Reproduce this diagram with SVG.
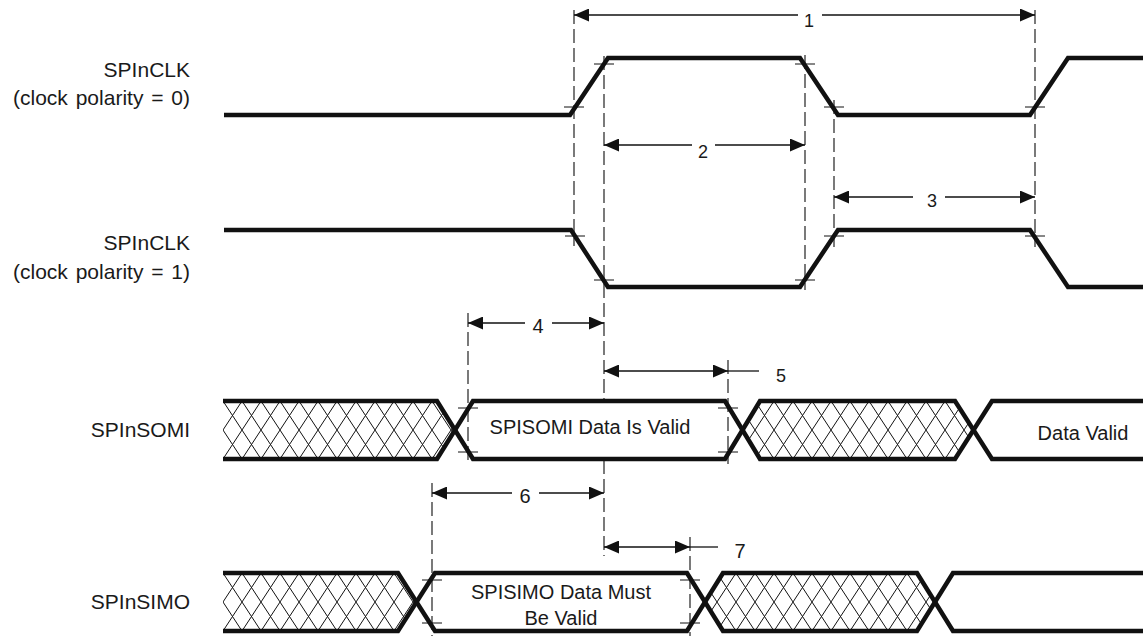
<svg xmlns="http://www.w3.org/2000/svg" width="1143" height="636" viewBox="0 0 1143 636">
<defs>
<marker id="ah" viewBox="0 0 15 13" refX="15" refY="6.5" markerWidth="15" markerHeight="13" markerUnits="userSpaceOnUse" orient="auto-start-reverse">
<path d="M0,0 L15,6.5 L0,13 Z" fill="#111"/>
</marker>
<pattern id="xh1" patternUnits="userSpaceOnUse" x="223" y="401" width="19" height="29">
<path d="M0,0 L19,29 M19,0 L0,29" stroke="#111" stroke-width="1" fill="none"/>
</pattern>
<pattern id="xh2" patternUnits="userSpaceOnUse" x="223" y="573" width="19" height="29">
<path d="M0,0 L19,29 M19,0 L0,29" stroke="#111" stroke-width="1" fill="none"/>
</pattern>
</defs>
<style>
.lbl{font-family:"Liberation Sans",Arial,sans-serif;font-size:20px;fill:#1a1a1a}
.side{font-family:"Liberation Sans",Arial,sans-serif;font-size:21px;fill:#1a1a1a;text-anchor:end}
.pol{word-spacing:2px}
.num{font-family:"Liberation Sans",Arial,sans-serif;font-size:18px;fill:#1a1a1a;text-anchor:middle}
.num2{font-family:"Liberation Sans",Arial,sans-serif;font-size:20px;fill:#1a1a1a;text-anchor:middle}
.sig{fill:none;stroke:#111;stroke-width:4.5;stroke-linejoin:miter;stroke-linecap:butt}
.tick{stroke:#111;stroke-width:1;fill:none}
.dash{stroke:#222;stroke-width:1.2;stroke-dasharray:14 5;fill:none}
.dim{stroke:#111;stroke-width:1.3;fill:none}
</style>

<g id="label-clk0">
<text class="side" x="190" y="77">SPInCLK</text>
<text class="side pol" x="190" y="105">(clock polarity = 0)</text>
</g>
<g id="label-clk1">
<text class="side" x="190" y="250">SPInCLK</text>
<text class="side pol" x="190" y="279">(clock polarity = 1)</text>
</g>
<g id="label-somi">
<text class="side" x="190" y="437">SPInSOMI</text>
</g>
<g id="label-simo">
<text class="side" x="190" y="609">SPInSIMO</text>
</g>

<g id="guides">
<line class="dash" x1="574" y1="10" x2="574" y2="246"/>
<line class="dash" x1="604" y1="56" x2="604" y2="400"/>
<line class="dash" x1="604" y1="460" x2="604" y2="556"/>
<line class="dash" x1="805" y1="55" x2="805" y2="290"/>
<line class="dash" x1="834" y1="100" x2="834" y2="247"/>
<line class="dash" x1="1035" y1="10" x2="1035" y2="247"/>
<line class="dash" x1="468" y1="313" x2="468" y2="464"/>
<line class="dash" x1="728" y1="360" x2="728" y2="464"/>
<line class="dash" x1="432" y1="483" x2="432" y2="636"/>
<line class="dash" x1="690" y1="537" x2="690" y2="636"/>
</g>

<g id="clk0">
<path class="sig" d="M224,115 H570 L608,58 H800 L838,115 H1030 L1068,58 H1143"/>
<path class="tick" d="M564,107 H584 M594,64 H614 M795,64 H815 M824,107 H844 M1025,107 H1045"/>
</g>

<g id="clk1">
<path class="sig" d="M224,230 H571 L608,287 H800 L838,230 H1030 L1068,287 H1143"/>
<path class="tick" d="M565,236 H585 M594,280 H614 M795,280 H815 M824,236 H844 M1025,236 H1045"/>
</g>

<g id="somi">
<polygon points="223,401 437,401 455,430 437,459 223,459" fill="url(#xh1)"/>
<polygon points="742,430 760,401 955,401 973,430 955,459 760,459" fill="url(#xh1)"/>
<path class="sig" d="M223,401 H437 L473,459 H725 L760,401 H955 L992,459 H1143"/>
<path class="sig" d="M223,459 H437 L473,401 H725 L760,459 H955 L992,401 H1143"/>
<path class="tick" d="M458,408 H478 M458,452 H478 M718,408 H738 M718,452 H738"/>
<text class="lbl" x="590" y="434" text-anchor="middle">SPISOMI Data Is Valid</text>
<text class="lbl" x="1083" y="440" text-anchor="middle">Data Valid</text>
</g>

<g id="simo">
<polygon points="223,573 398,573 417,602 398,631 223,631" fill="url(#xh2)"/>
<polygon points="705,602 723,573 917,573 935,602 917,631 723,631" fill="url(#xh2)"/>
<path class="sig" d="M223,573 H398 L435,631 H687 L723,573 H917 L953,631 H1143"/>
<path class="sig" d="M223,631 H398 L435,573 H687 L723,631 H917 L953,573 H1143"/>
<path class="tick" d="M422,580 H442 M422,623 H442 M680,580 H700 M680,623 H700"/>
<text class="lbl" x="561" y="599" text-anchor="middle">SPISIMO Data Must</text>
<text class="lbl" x="561" y="625" text-anchor="middle">Be Valid</text>
</g>

<g id="connectors">
<line class="dim" x1="574" y1="15" x2="798" y2="15" marker-start="url(#ah)"/>
<line class="dim" x1="822" y1="15" x2="1035" y2="15" marker-end="url(#ah)"/>
<text class="num" x="809" y="27">1</text>

<line class="dim" x1="604" y1="145" x2="692" y2="145" marker-start="url(#ah)"/>
<line class="dim" x1="715" y1="145" x2="805" y2="145" marker-end="url(#ah)"/>
<text class="num" x="703" y="158">2</text>

<line class="dim" x1="834" y1="197" x2="913" y2="197" marker-start="url(#ah)"/>
<line class="dim" x1="945" y1="197" x2="1035" y2="197" marker-end="url(#ah)"/>
<text class="num" x="932" y="207">3</text>

<line class="dim" x1="468" y1="323" x2="525" y2="323" marker-start="url(#ah)"/>
<line class="dim" x1="552" y1="323" x2="604" y2="323" marker-end="url(#ah)"/>
<text class="num2" x="538" y="333">4</text>

<line class="dim" x1="604" y1="371" x2="728" y2="371" marker-start="url(#ah)" marker-end="url(#ah)"/>
<line class="dim" x1="728" y1="371" x2="759" y2="371"/>
<text class="num" x="781" y="382">5</text>

<line class="dim" x1="432" y1="493" x2="512" y2="493" marker-start="url(#ah)"/>
<line class="dim" x1="539" y1="493" x2="604" y2="493" marker-end="url(#ah)"/>
<text class="num2" x="525" y="503">6</text>

<line class="dim" x1="604" y1="547" x2="690" y2="547" marker-start="url(#ah)" marker-end="url(#ah)"/>
<line class="dim" x1="690" y1="547" x2="718" y2="547"/>
<text class="num2" x="740" y="558">7</text>
</g>
</svg>
